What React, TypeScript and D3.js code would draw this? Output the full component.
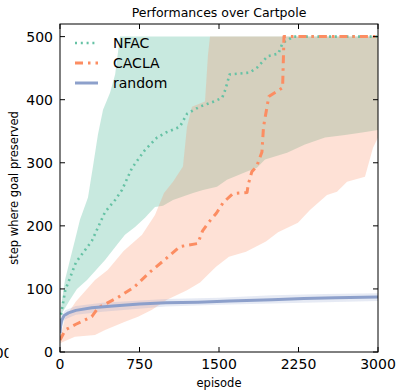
import React from "react";
import * as d3 from "d3";

// ---------- data ----------
const xTicks = [0, 750, 1500, 2250, 3000];
const yTicks = [0, 100, 200, 300, 400, 500];
const seriesNames = ["NFAC", "CACLA", "random"];

// NFAC
const nfacMeanEp = [0, 50, 150, 300, 425, 520, 585, 680, 800, 915, 1000, 1130, 1200, 1320, 1450, 1530, 1560, 1600, 1790, 1860, 1960, 2060, 2100, 2200, 3000];
const nfacMeanVal = [50, 98, 142, 176, 222, 241, 257, 292, 320, 340, 348, 357, 378, 389, 397, 403, 416, 440, 443, 451, 469, 473, 490, 500, 500];
const nfacUpperEp = [0, 19, 47, 94, 142, 189, 236, 264, 311, 358, 406, 472, 520, 566, 3000];
const nfacUpperVal = [55, 83, 114, 146, 178, 210, 232, 245, 294, 345, 384, 411, 440, 500, 500];
const nfacLowerEp = [0, 20, 94, 160, 255, 425, 547, 613, 708, 802, 896, 972, 1066, 1255, 1349, 1481, 1575, 1764, 1858, 1934, 2142, 2311, 2500, 2689, 2850, 3000];
const nfacLowerVal = [50, 62, 83, 100, 114, 146, 172, 186, 198, 213, 230, 232, 241, 252, 257, 262, 273, 286, 292, 305, 316, 329, 340, 344, 348, 352];

// CACLA
const caclaMeanEp = [0, 50, 150, 300, 360, 550, 700, 850, 1000, 1130, 1300, 1345, 1400, 1475, 1540, 1630, 1765, 1775, 1810, 1855, 1905, 1920, 1970, 2100, 2113, 3000];
const caclaMeanVal = [19, 35, 44, 56, 70, 87, 103, 127, 148, 167, 172, 192, 205, 220, 237, 251, 253, 265, 286, 294, 317, 357, 405, 419, 500, 500];
const caclaUpperEp = [0, 50, 150, 330, 450, 600, 774, 896, 981, 1066, 1160, 1198, 1245, 1368, 1396, 1415, 3000];
const caclaUpperVal = [22, 55, 80, 114, 130, 160, 186, 217, 252, 270, 294, 357, 389, 397, 471, 500, 500];
const caclaLowerEp = [0, 140, 330, 425, 613, 736, 868, 1009, 1198, 1321, 1472, 1594, 1755, 1943, 2057, 2245, 2358, 2519, 2613, 2708, 2877, 2953, 3000];
const caclaLowerVal = [14, 24, 27, 35, 48, 56, 67, 83, 98, 110, 135, 151, 159, 175, 190, 205, 225, 249, 254, 270, 278, 324, 340];

// random
const randMeanEp = [0, 5, 15, 40, 80, 150, 300, 500, 750, 1000, 1300, 1600, 2000, 2300, 2600, 3000];
const randMeanVal = [30, 40, 50, 58, 62, 66, 70, 73, 76, 78, 79, 81, 83, 85, 86, 87];
const randUpperEp = [0, 15, 50, 150, 400, 1000, 1500, 2000, 2500, 3000];
const randUpperVal = [40, 58, 66, 73, 78, 84, 86, 90, 92, 93];
const randLowerEp = [0, 15, 50, 150, 400, 1000, 1500, 2000, 2500, 3000];
const randLowerVal = [20, 42, 52, 59, 64, 72, 75, 77, 79, 81];

const colors = ["#66c2a5", "#fc8d62", "#8da0cb"];

const W = 396;
const H = 391;
const L = 60, R = 378, T = 24, B = 352;

const FONT = "DejaVu Sans, sans-serif";

const DOT = "2,3.8";
const DASHDOT = "8,5,2.5,5";

export default function App() {
  const x = d3.scaleLinear().domain([0, 3000]).range([L, R]);
  const y = d3.scaleLinear().domain([0, 520]).range([B, T]);

  const zip = (ep: number[], v: number[]) => ep.map((e, i) => [x(e), y(v[i])] as [number, number]);
  const line = d3.line<[number, number]>();
  const band = (ue: number[], uv: number[], le: number[], lv: number[]) => {
    const pts = zip(ue, uv).concat(zip(le, lv).reverse());
    return line(pts) + "Z";
  };

  const bands = [
    { d: band(nfacUpperEp, nfacUpperVal, nfacLowerEp, nfacLowerVal), c: colors[0], o: 0.36 },
    { d: band(caclaUpperEp, caclaUpperVal, caclaLowerEp, caclaLowerVal), c: colors[1], o: 0.26 },
    { d: band(randUpperEp, randUpperVal, randLowerEp, randLowerVal), c: colors[2], o: 0.22 },
  ];
  const means = [
    { d: line(zip(nfacMeanEp, nfacMeanVal)), c: colors[0], w: 2.6, dash: DOT },
    { d: line(zip(caclaMeanEp, caclaMeanVal)), c: colors[1], w: 3, dash: DASHDOT },
    { d: line(zip(randMeanEp, randMeanVal)), c: colors[2], w: 3, dash: "none" },
  ];
  const legendDash = [DOT, DASHDOT, "none"];
  const legendW = [2.6, 3, 3];

  return (
    <svg width={W} height={H} style={{ position: "absolute", left: 0, top: 0, background: "#fff" }}>
      <defs>
        <clipPath id="plotclip">
          <rect x={L} y={T} width={R - L} height={B - T} />
        </clipPath>
        <clipPath id="leftclip">
          <rect x={0} y={330} width={8.5} height={40} />
        </clipPath>
      </defs>
      <rect x={0} y={0} width={W} height={H} fill="#fff" />
      <g clipPath="url(#plotclip)">
        {bands.map((b, i) => (
          <path key={"b" + i} d={b.d} fill={b.c} fillOpacity={b.o} stroke="none" />
        ))}
        {means.map((m, i) => (
          <path key={"m" + i} d={m.d || ""} fill="none" stroke={m.c} strokeWidth={m.w}
            strokeDasharray={m.dash} strokeLinejoin="round" />
        ))}
      </g>

      {/* frame */}
      <rect x={L} y={T} width={R - L} height={B - T} fill="none" stroke="#000" strokeWidth={1} />

      {/* x ticks */}
      {xTicks.map((t) => (
        <g key={"xt" + t}>
          <line x1={x(t)} x2={x(t)} y1={B} y2={B - 5} stroke="#000" />
          <line x1={x(t)} x2={x(t)} y1={T} y2={T + 5} stroke="#000" />
          <text x={x(t)} y={369} textAnchor="middle" fontFamily={FONT} fontSize={14} fill="#000">{t}</text>
        </g>
      ))}
      {/* y ticks */}
      {yTicks.map((t) => (
        <g key={"yt" + t}>
          <line x1={L} x2={L + 5} y1={y(t)} y2={y(t)} stroke="#000" />
          <line x1={R} x2={R - 5} y1={y(t)} y2={y(t)} stroke="#000" />
          <text x={53} y={y(t) + 5} textAnchor="end" fontFamily={FONT} fontSize={14} fill="#000">{t}</text>
        </g>
      ))}

      {/* fragment of neighbouring label */}
      <g clipPath="url(#leftclip)">
        <text x={12.5} y={358} textAnchor="end" fontFamily={FONT} fontSize={14} fill="#000">3000</text>
      </g>

      {/* title & labels */}
      <text x={219} y={17} textAnchor="middle" fontFamily={FONT} fontSize={12.5} fill="#000">Performances over Cartpole</text>
      <text x={219} y={387} textAnchor="middle" fontFamily={FONT} fontSize={11.5} fill="#000">episode</text>
      <text transform={`translate(18,${(T + B) / 2}) rotate(-90)`} textAnchor="middle" fontFamily={FONT} fontSize={11.5} fill="#000">step where goal preserved</text>

      {/* legend */}
      {seriesNames.map((n, i) => (
        <g key={"lg" + i}>
          <line x1={75} x2={98} y1={43 + i * 20} y2={43 + i * 20} stroke={colors[i]} strokeWidth={legendW[i]} strokeDasharray={legendDash[i]} />
          <text x={113} y={48 + i * 20} fontFamily={FONT} fontSize={14} fill="#000">{n}</text>
        </g>
      ))}
    </svg>
  );
}
